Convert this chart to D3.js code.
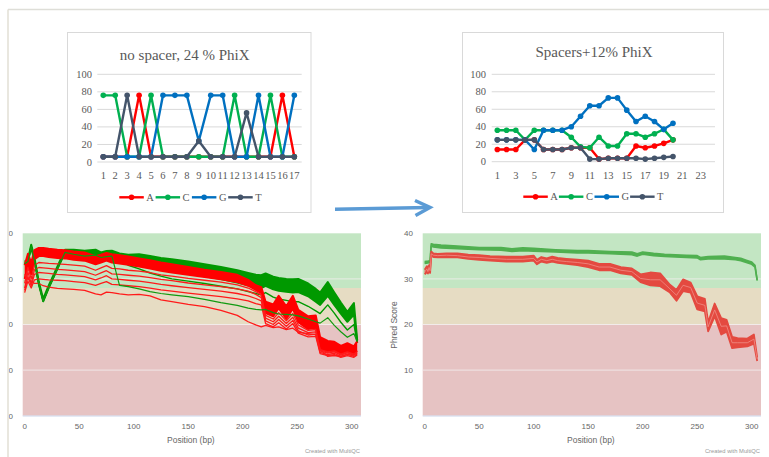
<!DOCTYPE html>
<html><head><meta charset="utf-8">
<script src="https://cdn.jsdelivr.net/npm/d3@7"></script>
<style>body{margin:0;background:#fff}svg{display:block}</style>
</head><body>
<svg id="c" width="769" height="457"></svg>
<script>
// ---------------- DATA ----------------
// Top-left: no spacer, 24 % PhiX
const nsCats = [1,2,3,4,5,6,7,8,9,10,11,12,13,14,15,16,17];
const nsA = [6,6,6,76,6,6,6,6,6,6,6,6,6,6,6,76,6];
const nsC = [76,76,6,6,76,6,6,6,6,6,6,76,6,6,76,6,6];
const nsG = [6,6,6,6,6,76,76,76,24,76,76,6,6,76,6,6,76];
const nsT = [6,6,76,6,6,6,6,6,24,6,6,6,56,6,6,6,6];
// Top-right: Spacers+12% PhiX
const spCats = [1,2,3,4,5,6,7,8,9,10,11,12,13,14,15,16,17,18,19,20,21,22,23,24];
const spTickLabels = [1,3,5,7,9,11,13,15,17,19,21,23];
const spPos = [1,2,3,4,5,6,7,8,9,10,11,12,13,14,15,16,17,18,19,20];
const spA = [14,14,14,25,25,14,14,14,16,16,16,3,4,4,4,18,16,18,21,25];
const spC = [36,36,36,25,36,36,36,36,28,17,16,28,18,18,32,32,28,32,37,25];
const spG = [25,25,25,25,14,36,36,36,40,52,64,64,73,73,59,46,52,46,37,44];
const spT = [25,25,25,25,25,14,14,14,16,16,3,3,4,4,4,4,3,4,5,6];
const percentTicks = [0,20,40,60,80,100];
const legendKeys = ['A','C','G','T'];

// Bottom: MultiQC per-base quality
const phredTicks = [0,10,20,30,40];
const posTicks = [0,50,100,150,200,250,300];
// bottom-left
const lPos = [0,3,6,9,13,17,22,30,37,45,55,65,70,75,80,87,95,105,115,125,135,150,165,180,195,205,212,217,221,228,233,240,246,251,260,267,271,278,284,290,296,302,305];
const lGreenTop = [33.8,34.2,37.5,34.6,29.3,25.6,28.5,32.7,36.4,36.4,36.2,36.4,35.8,36.1,36.2,35.6,35.3,35.4,35.0,34.6,34.3,33.8,33.2,32.6,31.9,31.3,30.9,30.8,31.2,30.5,30.2,30.0,29.9,30.0,29.0,27.8,27.0,29.3,27.0,24.8,22.8,24.7,16.5];
const lGreenBot = [33.3,33.8,37.0,34.0,28.8,25.1,28.0,32.2,35.8,35.4,35.0,35.2,34.7,34.9,35.0,34.3,33.8,33.7,33.2,32.6,32.1,31.2,30.6,30.0,29.2,28.6,28.2,28.0,28.5,27.7,27.4,27.2,27.0,27.1,26.2,25.0,24.3,26.3,24.3,22.4,20.6,22.2,16.0];
const lGreen5 = [33.3,33.8,37.0,34.0,28.8,25.1,28.0,32.2,35.8,35.4,35.0,35.2,34.7,34.9,35.0,34.0,33.0,32.2,31.3,30.6,30.0,29.5,29.0,28.4,27.8,27.2,26.8,26.5,27.0,26.0,25.6,25.3,25.0,25.0,24.0,23.0,22.4,24.3,22.5,20.5,18.8,20.0,16.2];
const lGreen6 = [33.3,33.8,37.0,34.0,28.8,25.1,28.0,32.2,35.8,35.4,35.0,35.2,34.7,34.9,35.0,28.6,28.3,27.8,27.2,26.8,26.5,26.1,25.5,24.8,24.2,23.6,23.3,23.2,23.3,22.6,22.3,22.2,22.1,21.9,21.2,20.6,20.3,21.5,19.8,18.4,17.2,18.0,16.2];
const lRedTop = [33.0,35.5,33.5,36.3,36.8,36.8,36.6,36.4,36.3,36.0,35.8,35.0,35.3,35.7,35.4,35.2,34.9,34.5,34.1,33.6,33.2,32.6,32.0,31.5,30.9,29.8,28.6,28.2,25.0,24.4,26.3,24.0,26.3,23.2,21.8,22.0,17.2,16.4,16.2,15.3,15.9,15.2,16.3];
const lRedBot = [30.0,33.0,31.0,34.3,35.0,35.0,34.8,34.6,34.5,34.2,34.0,33.2,33.6,34.0,33.6,33.4,33.1,32.7,32.3,31.8,31.4,30.9,30.4,29.9,29.3,28.5,27.6,26.9,22.5,21.8,23.6,21.2,23.5,20.5,19.0,19.3,14.6,14.0,14.3,13.6,14.1,13.5,14.3];
const lRed5 = [29.0,32.5,30.0,33.0,33.6,33.5,33.4,33.3,33.2,33.0,32.8,31.9,32.4,32.9,32.3,32.2,31.9,31.7,31.4,30.9,30.6,30.1,29.7,29.3,28.7,28.0,27.2,26.5,22.0,21.2,22.6,20.8,22.4,19.9,18.7,18.9,14.5,14.0,14.2,13.5,14.0,13.5,14.0];
const lRed6 = [28.0,31.5,29.0,32.0,32.5,32.4,32.3,32.1,32.0,31.8,31.6,30.8,31.3,31.8,31.1,31.0,30.8,30.6,30.3,29.9,29.6,29.1,28.7,28.3,27.8,27.3,26.6,25.9,21.4,20.6,21.8,20.2,21.6,19.2,18.2,18.4,14.2,13.7,14.0,13.3,13.8,13.3,13.8];
const lRed7 = [27.5,30.5,28.5,31.0,31.4,31.3,31.2,31.0,30.9,30.7,30.5,29.8,30.2,30.7,30.0,29.9,29.7,29.5,29.2,28.8,28.5,28.1,27.7,27.3,26.8,26.3,25.7,25.2,20.8,20.0,21.1,19.6,20.9,18.6,17.7,17.9,13.9,13.4,13.7,13.0,13.5,13.0,13.5];
const lRed8 = [27.0,29.5,28.0,29.8,30.0,29.9,29.8,29.7,29.6,29.4,29.2,28.6,29.0,29.4,28.8,28.7,28.5,28.3,28.0,27.6,27.3,26.9,26.5,26.1,25.6,25.2,24.6,24.3,20.2,19.5,20.4,19.0,20.2,18.1,17.3,17.4,13.6,13.2,13.4,12.8,13.2,12.8,13.3];
const lRed9 = [31.0,30.0,29.5,29.0,29.0,28.5,28.2,27.9,27.8,27.7,27.5,26.7,26.5,27.1,27.0,26.7,26.5,26.6,26.3,25.4,25.0,24.4,23.9,23.1,22.0,20.6,19.9,19.5,19.8,19.3,19.5,18.9,19.2,18.3,18.0,17.8,14.5,13.0,13.2,13.0,13.4,13.3,13.7];
// bottom-right
const rPos = [0,2,3,4,5,6,8,12,20,30,40,50,60,75,90,100,103,107,112,117,122,130,140,150,160,170,180,190,198,207,216,225,231,237,244,250,257,260,266,272,277,282,287,296,302,305];
const rRedTop = [32.0,32.8,32.0,33.0,32.2,36.0,35.6,35.5,35.6,35.6,35.3,35.2,35.0,34.9,34.9,35.1,34.2,34.8,34.5,34.9,34.6,34.4,34.2,34.0,33.3,33.3,32.6,32.3,31.0,31.4,31.2,28.7,27.6,29.9,29.2,26.2,25.6,20.5,24.6,21.4,21.0,17.3,17.0,16.9,17.8,12.8];
const rRedMid = [31.5,32.2,31.6,32.5,31.8,35.5,35.2,35.1,35.2,35.1,34.8,34.7,34.5,34.3,34.3,34.5,33.7,34.3,34.0,34.3,34.0,33.8,33.6,33.3,32.6,32.6,31.9,31.6,30.1,29.8,29.8,27.8,26.4,28.6,28.1,24.7,24.2,19.5,23.2,19.6,19.7,16.0,16.0,16.0,16.8,12.4];
const rRedBot = [31.0,31.5,31.2,32.0,31.3,35.0,34.8,34.7,34.8,34.7,34.4,34.2,34.0,33.8,33.8,34.0,33.2,33.8,33.5,33.8,33.5,33.3,33.0,32.6,31.9,31.9,31.2,30.9,29.3,28.6,28.4,27.0,25.2,27.3,27.0,23.3,22.9,18.5,21.8,17.8,18.4,14.8,15.0,15.2,15.8,12.0];
const rgPos = [0,3,5,6,8,15,30,50,70,80,90,100,120,140,150,170,190,195,200,210,220,230,240,250,253,260,275,285,290,295,300,303,305];
const rGreenTop = [33.8,33.9,34.0,37.7,37.6,37.4,37.2,36.9,36.9,36.6,36.8,36.7,36.4,36.2,36.2,36.0,35.9,35.5,35.9,35.6,35.4,35.3,35.2,35.1,34.7,34.9,35.0,34.7,34.5,34.1,33.7,33.0,29.8];
const rGreenBot = [33.4,33.5,33.6,37.2,37.0,36.8,36.6,36.4,36.3,36.0,36.2,36.1,35.9,35.7,35.7,35.5,35.3,35.0,35.4,35.1,34.9,34.8,34.7,34.6,34.2,34.4,34.4,34.2,34.0,33.6,33.2,32.6,29.6];

// ---------------- DRAW ----------------
const SERIF = '"Liberation Serif","Times New Roman",serif';
const SANS = '"Liberation Sans",Arial,sans-serif';
const COL = {A:'#ff0000', C:'#00b050', G:'#0070c0', T:'#44546a'};
const svg = d3.select('#c');
const defs = svg.append('defs');

// frame lines of the screenshot
svg.append('line').attr('x1',8).attr('x2',769).attr('y1',9.5).attr('y2',9.5).attr('stroke','#deded8').attr('stroke-width',1.5);
svg.append('line').attr('x1',8).attr('x2',8).attr('y1',9.5).attr('y2',457).attr('stroke','#e2dfd4').attr('stroke-width',1.5);

function topChart(cfg){
  const g = svg.append('g');
  g.append('rect').attr('x',cfg.box[0]).attr('y',cfg.box[1]).attr('width',cfg.box[2]).attr('height',cfg.box[3])
    .attr('fill','#fff').attr('stroke','#d9d9d9').attr('stroke-width',1);
  g.append('text').attr('x',cfg.titleX).attr('y',cfg.titleY).attr('text-anchor','middle')
    .attr('font-family',SERIF).attr('font-size',15).attr('fill','#595959').text(cfg.title);
  const x = d3.scaleBand().domain(cfg.cats).range(cfg.xRange);
  const bw = x.bandwidth();
  const cx = c => x(c) + bw/2;
  const y = d3.scaleLinear().domain([0,100]).range(cfg.yRange);
  percentTicks.forEach(t=>{
    g.append('line').attr('x1',cfg.gridX[0]).attr('x2',cfg.gridX[1]).attr('y1',y(t)).attr('y2',y(t))
      .attr('stroke','#d9d9d9').attr('stroke-width',1);
    g.append('text').attr('x',cfg.yLabelX).attr('y',y(t)+3.5).attr('text-anchor','end')
      .attr('font-family',SERIF).attr('font-size',10.5).attr('fill','#595959').text(t);
  });
  cfg.xLabels.forEach(l=>{
    g.append('text').attr('x',cx(l)).attr('y',cfg.xLabelY).attr('text-anchor','middle')
      .attr('font-family',SERIF).attr('font-size',10.5).attr('fill','#595959').text(l);
  });
  const line = d3.line().x((d,i)=>cx(cfg.pos[i])).y(d=>y(d));
  legendKeys.forEach(k=>{
    const vals = cfg.series[k];
    g.append('path').attr('d',line(vals)).attr('fill','none').attr('stroke',COL[k]).attr('stroke-width',2.4).attr('stroke-linejoin','round');
    g.selectAll(null).data(vals).enter().append('circle')
      .attr('cx',(d,i)=>cx(cfg.pos[i])).attr('cy',d=>y(d)).attr('r',2.8).attr('fill',COL[k]);
  });
  legendKeys.forEach((k,i)=>{
    const lx = cfg.legX + i*cfg.legStep;
    g.append('line').attr('x1',lx).attr('x2',lx+24.5).attr('y1',cfg.legY).attr('y2',cfg.legY).attr('stroke',COL[k]).attr('stroke-width',2.4);
    g.append('circle').attr('cx',lx+12.25).attr('cy',cfg.legY).attr('r',2.8).attr('fill',COL[k]);
    g.append('text').attr('x',lx+27).attr('y',cfg.legY+3.6).attr('font-family',SERIF).attr('font-size',10.5).attr('fill','#595959').text(k);
  });
}

topChart({box:[67.5,32.5,243.5,180], title:'no spacer, 24 % PhiX', titleX:184.7, titleY:60,
  cats:nsCats, pos:nsCats, xRange:[97.3,300.3], yRange:[162,74.3], gridX:[97.3,301.7], yLabelX:92,
  xLabels:nsCats, xLabelY:179, series:{A:nsA,C:nsC,G:nsG,T:nsT}, legX:119.3, legStep:36.3, legY:197.3});
topChart({box:[462.5,32.5,261,180], title:'Spacers+12% PhiX', titleX:594, titleY:57,
  cats:spCats, pos:spPos, xRange:[492.7,714.6], yRange:[161.7,74.3], gridX:[491.7,715], yLabelX:486,
  xLabels:spTickLabels, xLabelY:179, series:{A:spA,C:spC,G:spG,T:spT}, legX:523.3, legStep:35.6, legY:196.7});

// arrow
svg.append('line').attr('x1',335).attr('y1',209.3).attr('x2',428).attr('y2',207.6)
  .attr('stroke','#5b9bd5').attr('stroke-width',3.5);
svg.append('path').attr('d','M415,200.5 L430,207.5 L415.5,215.5').attr('fill','none')
  .attr('stroke','#5b9bd5').attr('stroke-width',3.5).attr('stroke-linejoin','miter');

function qcChart(cfg){
  const g = svg.append('g');
  const L = cfg.left, R = cfg.left + 338.3;
  const x = d3.scaleLinear().domain([-1.8,308.5]).range([L,R]);
  const y = d3.scaleLinear().domain([0,40]).range([415.7,233.3]);
  [[28,40,'#c3e6c3'],[20,28,'#e6dcc3'],[0,20,'#e6c3c3']].forEach(b=>{
    g.append('rect').attr('x',L).attr('width',R-L).attr('y',y(b[1])).attr('height',y(b[0])-y(b[1])).attr('fill',b[2]);
  });
  [10,20,30].forEach(t=>{
    g.append('line').attr('x1',L).attr('x2',R).attr('y1',y(t)).attr('y2',y(t)).attr('stroke','#f4f0f0').attr('stroke-width',1).attr('opacity',0.8);
  });
  g.append('line').attr('x1',L).attr('x2',R).attr('y1',416).attr('y2',416).attr('stroke','#ccd6eb').attr('stroke-width',1);
  const lab = cfg.clipLabels ? g.append('g').attr('clip-path','url(#labclip)') : g;
  phredTicks.forEach(t=>{
    lab.append('text').attr('x',L-9.7).attr('y',y(t)+2.8).attr('text-anchor','end')
      .attr('font-family',SANS).attr('font-size',8).attr('fill','#666').text(t);
  });
  posTicks.forEach(t=>{
    g.append('text').attr('x',x(t)).attr('y',429).attr('text-anchor','middle')
      .attr('font-family',SANS).attr('font-size',8).attr('fill','#666').text(t);
  });
  g.append('text').attr('x',(L+R)/2 - 1).attr('y',443).attr('text-anchor','middle')
    .attr('font-family',SANS).attr('font-size',8.5).attr('fill','#666').text('Position (bp)');
  g.append('text').attr('x',R-1).attr('y',453).attr('text-anchor','end')
    .attr('font-family',SANS).attr('font-size',5.8).attr('fill','#999').text('Created with MultiQC');
  if(cfg.yTitle){
    g.append('text').attr('transform',`translate(${L-26},325) rotate(-90)`).attr('text-anchor','middle')
      .attr('font-family',SANS).attr('font-size',8.5).attr('fill','#666').text(cfg.yTitle);
  }
  const cid = 'clip'+cfg.id;
  defs.append('clipPath').attr('id',cid).append('rect').attr('x',L).attr('y',233.3).attr('width',R-L).attr('height',182.4);
  const s = g.append('g').attr('clip-path',`url(#${cid})`);
  cfg.draw(s,x,y);
}

defs.append('clipPath').attr('id','labclip').append('rect').attr('x',8.8).attr('y',220).attr('width',20).attr('height',210);

function band(s,x,y,pos,top,bot,color,edge){
  const area = d3.area().x((d,i)=>x(pos[i])).y0((d,i)=>y(bot[i])).y1(d=>y(d));
  s.append('path').attr('d',area(top)).attr('fill',color).attr('stroke','none');
  const line = d3.line().x((d,i)=>x(pos[i])).y(d=>y(d));
  [top,bot].forEach(v=>s.append('path').attr('d',line(v)).attr('fill','none').attr('stroke',color).attr('stroke-width',edge).attr('stroke-linejoin','round'));
}
function thin(s,x,y,pos,vals,color,w){
  const line = d3.line().x((d,i)=>x(pos[i])).y(d=>y(d));
  s.append('path').attr('d',line(vals)).attr('fill','none').attr('stroke',color).attr('stroke-width',w).attr('stroke-linejoin','round');
}

qcChart({id:'L', left:22.7, clipLabels:true, draw:(s,x,y)=>{
  band(s,x,y,lPos,lGreenTop,lGreenBot,'#009900',2);
  thin(s,x,y,lPos,lGreen5,'#009900',1.4);
  band(s,x,y,lPos,lRedTop,lRedBot,'#ff0000',2);
  [lRed5,lRed6,lRed7,lRed8,lRed9].forEach(v=>thin(s,x,y,lPos,v,'#ff1a1a',1.3));
  thin(s,x,y,lPos,lGreen6,'#109a10',1.2);
}});
qcChart({id:'R', left:422.7, yTitle:'Phred Score', draw:(s,x,y)=>{
  band(s,x,y,rgPos,rGreenTop,rGreenBot,'#50b050',1.6);
  band(s,x,y,rPos,rRedTop,rRedBot,'#e44a40',1.8);
  thin(s,x,y,rPos,rRedMid,'#f08e86',0.8);
}});
</script>
</body></html>
